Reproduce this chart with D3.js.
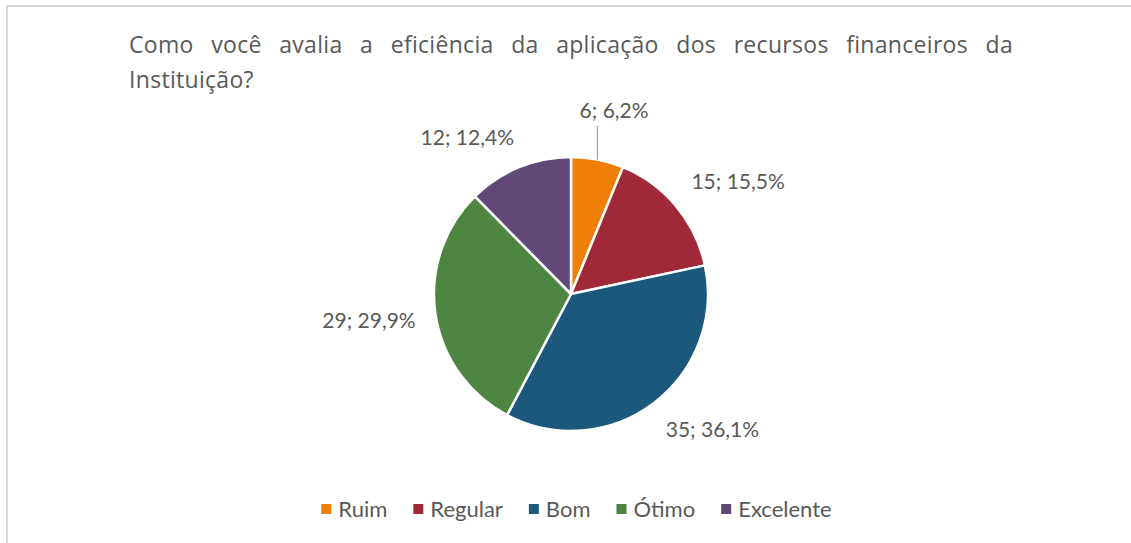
<!DOCTYPE html>
<html lang="pt">
<head>
<meta charset="UTF-8">
<script src="https://cdnjs.cloudflare.com/ajax/libs/d3/7.8.5/d3.min.js"></script>
<title>Eficiência dos recursos financeiros</title>
<style>
    body { margin: 0; background: #fff; }
    svg { display: block; font-family: Lato, 'Open Sans', sans-serif; }
    .title, .label, .legend text { fill: #595959; }
    .title { font-family: 'Open Sans', sans-serif; font-size: 23px; letter-spacing: 0.3px; }
</style>
</head>
<body>
<svg id="chart"></svg>
<script>
    const categories = ['Ruim', 'Regular', 'Bom', 'Ótimo', 'Excelente']
    const counts = [6, 15, 35, 29, 12]
    const colors = ['#F07F09', '#9F2936', '#1B587C', '#4E8542', '#604878']
    const titleLines = [
        'Como você avalia a eficiência da aplicação dos recursos financeiros da',
        'Instituição?'
    ]

    const W = 1131, H = 543
    const cx = 571, cy = 294, R = 137

    const svg = d3.select('#chart')
        .attr('width', W)
        .attr('height', H)

    // frame (only top and left edges are visible)
    svg.append('line').attr('x1', 6).attr('x2', W).attr('y1', 6).attr('y2', 6)
        .attr('stroke', '#d9d9d9').attr('stroke-width', 2)
    svg.append('line').attr('x1', 7).attr('x2', 7).attr('y1', 5).attr('y2', H)
        .attr('stroke', '#d9d9d9').attr('stroke-width', 2)

    // title, first line justified
    const titleLeft = 129, titleRight = 1013
    titleLines.forEach((line, i) => {
        const y = 53 + i * 35
        const words = line.split(' ')
        if (i === titleLines.length - 1) {
            svg.append('text').attr('class', 'title')
                .attr('x', titleLeft).attr('y', y)
                .text(line)
            return
        }
        const nodes = words.map(w => svg.append('text').attr('class', 'title')
            .attr('y', y).text(w))
        const widths = nodes.map(n => n.node().getBBox().width)
        const gap = (titleRight - titleLeft - d3.sum(widths)) / (words.length - 1)
        let x = titleLeft
        nodes.forEach((n, j) => {
            n.attr('x', x)
            x += widths[j] + gap
        })
    })

    // pie
    const total = d3.sum(counts)
    const pie = d3.pie().sort(null).value(d => d)
    const arcs = pie(counts)
    const arc = d3.arc().innerRadius(0).outerRadius(R)

    const g = svg.append('g').attr('transform', `translate(${cx},${cy})`)

    g.selectAll('path')
        .data(arcs)
        .enter()
        .append('path')
        .attr('d', arc)
        .attr('fill', (d, i) => colors[i])
        .attr('stroke', '#fff')
        .attr('stroke-width', 2.5)
        .attr('stroke-linejoin', 'round')

    // data labels: "n; p%"
    const fmt = v => (v * 100).toFixed(1).replace('.', ',') + '%'
    const labelR = 157, labelH = 22
    const clamp = v => Math.max(-1, Math.min(1, v))

    arcs.forEach((d, i) => {
        const a = (d.startAngle + d.endAngle) / 2
        const s = Math.sin(a), c = Math.cos(a)
        const t = g.append('text').attr('class', 'label')
            .style('font-size', '21px')
            .attr('text-anchor', 'middle')
            .text(counts[i] + '; ' + fmt(counts[i] / total))
        const w = t.node().getComputedTextLength()
        let lx, ly
        if (counts[i] / total < 0.08) {
            // small slice: label lifted above, with a leader line
            const ex = R * s, ey = -R * c
            const top = ey - 34
            g.append('line')
                .attr('x1', ex).attr('y1', ey)
                .attr('x2', ex).attr('y2', top)
                .attr('stroke', '#a6a6a6').attr('stroke-width', 1.3)
            lx = ex + w / 2 * clamp(2.5 * s)
            ly = top - 4 - labelH / 2
        } else {
            lx = labelR * s + w / 2 * clamp(2.5 * s)
            ly = -labelR * c - labelH / 2 * clamp(2.5 * c)
        }
        t.attr('x', lx).attr('y', ly + 7)
    })

    // legend
    const legend = svg.append('g').attr('class', 'legend')
    const items = categories.map((name, i) => {
        const it = legend.append('g')
        it.append('rect').attr('width', 10).attr('height', 10)
            .attr('y', 504).attr('fill', colors[i])
        const tx = it.append('text').attr('x', 17).attr('y', 517)
            .style('font-size', '22px').text(name)
        return { it, w: 17 + tx.node().getComputedTextLength() }
    })
    const spacing = 26
    const totalW = d3.sum(items, d => d.w) + spacing * (items.length - 1)
    let lxPos = 576.5 - totalW / 2
    items.forEach(d => {
        d.it.attr('transform', `translate(${lxPos},0)`)
        lxPos += d.w + spacing
    })
</script>
</body>
</html>
